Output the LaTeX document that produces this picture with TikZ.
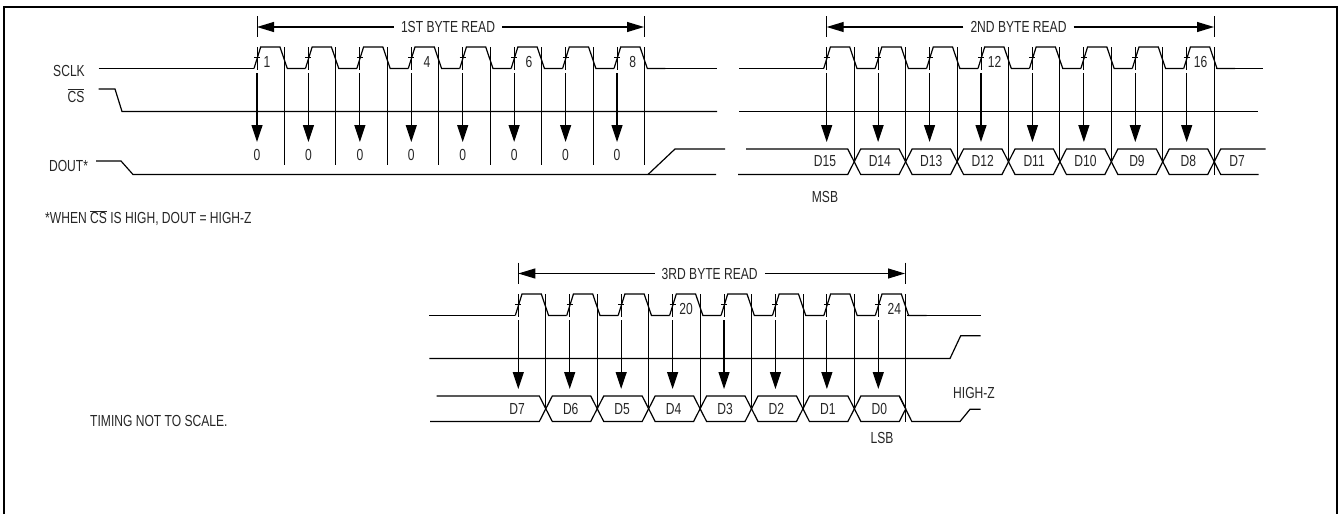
\documentclass[tikz,border=0pt]{standalone}
\usepackage{fontspec}
\setmainfont[FakeStretch=0.755]{Liberation Sans}
\usetikzlibrary{arrows.meta}
\tikzset{
  sig/.style={line width=1.2pt},
  edge/.style={line width=0.9pt},
  sample/.style={line width=1.2pt,-{Triangle[length=17pt,width=11pt]}},
  span/.style={line width=1.1pt,-{Triangle[length=17pt,width=10pt]}},
  lab/.style={inner sep=0pt,font=\fontsize{16}{18}\selectfont,text=black!85},
  spanlab/.style={inner sep=7pt,font=\fontsize{16}{18}\selectfont,text=black!85}
}
% eight clock pulses with their sample arrows, #1 = how far the falling edge lines go
\newcommand{\clockburst}[1]{
  \foreach \k in {0,...,7} {
    \pgfmathsetmacro{\rx}{257+51.43*\k}
    \pgfmathsetmacro{\fx}{\rx+27.5}
    \draw[sig] (\rx-3,68.5) -- (\rx+3.7,47) -- (\rx+23,47) -- (\rx+30.3,68.5) -- (\rx+48.4,68.5);
    \draw[edge] (\rx,47) -- (\rx,70);
    \draw[edge] (\rx-3,57) -- (\rx+3,57);
    \ifnum\k<7 \draw[edge] (\fx,47) -- (\fx,#1); \fi
    \draw[sample] (\rx,73) -- (\rx,142);
  }
}
% bus between the falling edges
\newcommand{\busburst}{
  \foreach \k in {0,...,6} {
    \pgfmathsetmacro{\ax}{284.5+51.43*\k}
    \pgfmathsetmacro{\bx}{\ax+51.43}
    \draw[sig] (\ax,161.75) -- (\ax+6.5,149) -- (\bx-6.5,149) -- (\bx,161.75) -- (\bx-6.5,174.5) -- (\ax+6.5,174.5) -- cycle;
  }
}
\begin{document}
\begin{tikzpicture}[x=1pt,y=-1pt]
  \useasboundingbox (0,0) rectangle (1338,514);
  \draw[line width=2pt] (4,514) -- (4,7) -- (1337,7) -- (1337,514);

  % first byte
  \clockburst{165}
  \foreach \k in {0,...,7} {
    \pgfmathsetmacro{\rx}{257+51.43*\k}
    \node[lab] (zero\k) at (\rx,155) {0};
  }
  \draw[sig] (98.5,68.5) -- (254,68.5);
  \draw[sig] (665,68.5) -- (717,68.5);
  \draw[edge] (644.5,47) -- (644.5,165);
  \draw[sig] (98.5,89) -- (115,89) -- (122,111.5) -- (717,111.5);
  \draw[sig] (96,161) -- (121,161) -- (133,174.5) -- (716,174.5);
  \draw[sig] (648,174.5) -- (675,149) -- (725,149);
  \node[lab] (sclk) at (69,71) {SCLK};
  \node[lab] (cs) at (76,95.5) {$\overline{\mbox{CS}}$};
  \node[lab] (dout) at (68.5,166) {DOUT*};
  \node[lab] (one) at (267,62) {1};
  \node[lab] (four) at (427,62) {4};
  \node[lab] (six) at (529,62) {6};
  \node[lab] (eight) at (632.7,62) {8};
  \node[lab,anchor=west] (note) at (45,218) {*WHEN $\overline{\mbox{CS}}$ IS HIGH, DOUT = HIGH-Z};
  \node[lab,anchor=west] (scale) at (90,420.5) {TIMING NOT TO SCALE.};
  \node[spanlab] (first) at (448,27) {1ST BYTE READ};
  \coordinate (firstl) at (257,27);
  \coordinate (firstr) at (644,27);
  \draw[edge] (257,16) -- (257,37);
  \draw[edge] (644,16) -- (644,37);
  \draw[span] (first) -- (firstl);
  \draw[span] (first) -- (firstr);

  % second byte
  \begin{scope}[shift={(569.7,0)}]
    \clockburst{160}
    \busburst
    \draw[sig] (646,68.5) -- (693,68.5);
    \draw[edge] (644.5,47) -- (644.5,175);
    \draw[sig] (176.5,149) -- (278,149) -- (284.5,161.75) -- (278,174.5) -- (168.5,174.5);
    \draw[sig] (696,149) -- (651,149) -- (644.5,161.75) -- (651,174.5) -- (689,174.5);
    \draw[sig] (169.3,68.5) -- (254,68.5);
    \draw[sig] (169.3,111.5) -- (688,111.5);
  \end{scope}
  \foreach \k/\name in {1/D14,2/D13,3/D12,4/D11,5/D10,6/D9,7/D8} {
    \pgfmathsetmacro{\rx}{826.7+51.43*\k}
    \node[lab] (bus\name) at (\rx+1.7,161) {\name};
  }
  \node[lab] (dfifteen) at (825,161) {D15};
  \node[lab] (dseven) at (1237,161) {D7};
  \node[lab] (msb) at (825,197) {MSB};
  \node[lab] (twelve) at (994.5,62) {12};
  \node[lab] (sixteen) at (1200.5,62) {16};
  \node[spanlab] (second) at (1018.5,27) {2ND BYTE READ};
  \coordinate (secondl) at (826.7,27);
  \coordinate (secondr) at (1214,27);
  \draw[edge] (826.7,16) -- (826.7,37);
  \draw[edge] (1214,16) -- (1214,37);
  \draw[span] (second) -- (secondl);
  \draw[span] (second) -- (secondr);

  % third byte
  \begin{scope}[shift={(261.3,247)}]
    \clockburst{160}
    \busburst
    \draw[sig] (646,68.5) -- (719.4,68.5);
    \draw[edge] (644,47) -- (644,175);
    \draw[sig] (175.4,149) -- (278,149) -- (284.5,161.75) -- (278,174.5) -- (168.7,174.5);
    \draw[sig] (638,149) -- (650.5,174.5) -- (698.7,174.5) -- (708.7,162.3) -- (719.4,162.3);
    \draw[sig] (168,68.5) -- (254,68.5);
    \draw[sig] (168,111.5) -- (688.7,111.5) -- (699.4,88.7) -- (719.4,88.7);
  \end{scope}
  \foreach \k/\name in {1/D6,2/D5,3/D4,4/D3,5/D2,6/D1,7/D0} {
    \pgfmathsetmacro{\rx}{518.3+51.43*\k}
    \node[lab] (bus\name) at (\rx+1,409) {\name};
  }
  \node[lab] (dsevenb) at (517,409) {D7};
  \node[lab] (lsb) at (882,438) {LSB};
  \node[lab] (highz) at (974,393) {HIGH-Z};
  \node[lab] (twenty) at (686,309) {20};
  \node[lab] (twentyfour) at (894.3,309) {24};
  \node[spanlab] (third) at (709.7,273.5) {3RD BYTE READ};
  \coordinate (thirdl) at (518.3,273.5);
  \coordinate (thirdr) at (905,273.5);
  \draw[edge] (518.3,262.7) -- (518.3,284);
  \draw[edge] (905,262.7) -- (905,284);
  \draw[span] (third) -- (thirdl);
  \draw[span] (third) -- (thirdr);
\end{tikzpicture}
\end{document}
